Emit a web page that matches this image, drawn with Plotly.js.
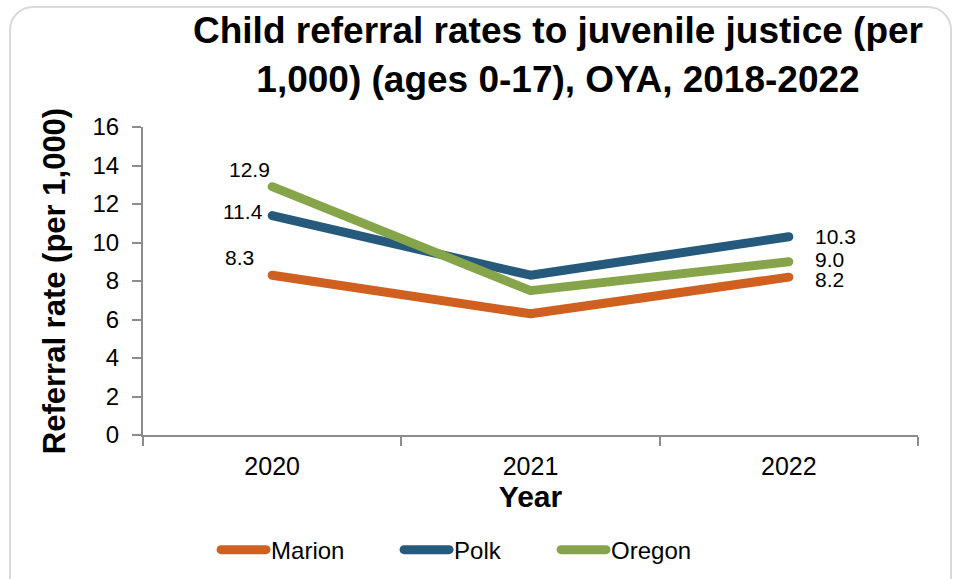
<!DOCTYPE html>
<html>
<head>
<meta charset="utf-8">
<script src="https://cdn.plot.ly/plotly-3.0.1.min.js"></script>
<style>
  html, body { margin: 0; padding: 0; background: #fff; }
  #wrap { position: relative; width: 956px; height: 579px; overflow: hidden; }
  #chart { width: 956px; height: 579px; }
  #frame { position: absolute; left: 9px; top: 6px; width: 939px; height: 600px;
           border: 2px solid #d9d9d9; border-radius: 24px; pointer-events: none; }
  .scatterlayer path.js-line { stroke-linecap: round; stroke-linejoin: round; }
  .legendlines path { stroke-linecap: round; }
</style>
</head>
<body>
<div id="wrap"><div id="chart"></div><div id="frame"></div></div>
<script>
// ---- data ----
const years = ['2020', '2021', '2022'];
const marion = [8.3, 6.3, 8.2];
const polk = [11.4, 8.3, 10.3];
const oregon = [12.9, 7.5, 9.0];
const seriesNames = ['Marion', 'Polk', 'Oregon'];
const yTicks = [0, 2, 4, 6, 8, 10, 12, 14, 16];

// ---- styling ----
const colors = ['#D0601F', '#255A7D', '#86A54A'];
const seriesData = [marion, polk, oregon];
const legendWidths = [123, 97, 90];
// label offsets (px) for first and last points of each series
const firstShift = [[-33, 18], [-29, 4], [-23, 17]];
const lastShift = [[24, -2], [24, 0], [24, 2]];

const traces = seriesData.map((vals, i) => ({
  type: 'scatter',
  mode: 'lines',
  x: years,
  y: vals,
  name: seriesNames[i],
  legendwidth: legendWidths[i],
  line: { color: colors[i], width: 9 },
  hoverinfo: 'x+y+name'
}));

const labelFont = { family: 'Liberation Sans, Arial, sans-serif', size: 21, color: '#000' };
const annotations = [];
seriesData.forEach((vals, i) => {
  const last = vals.length - 1;
  annotations.push({
    x: 0, y: vals[0], xref: 'x', yref: 'y',
    text: vals[0].toFixed(1), showarrow: false,
    xanchor: 'center', yanchor: 'middle',
    xshift: firstShift[i][0], yshift: firstShift[i][1],
    font: labelFont
  });
  annotations.push({
    x: last, y: vals[last], xref: 'x', yref: 'y',
    text: vals[last].toFixed(1), showarrow: false,
    xanchor: 'left', yanchor: 'middle',
    xshift: lastShift[i][0], yshift: lastShift[i][1],
    font: labelFont
  });
});

const layout = {
  width: 956, height: 579,
  margin: { l: 143, r: 38, t: 127, b: 144 },
  paper_bgcolor: '#fff', plot_bgcolor: '#fff',
  font: { family: 'Liberation Sans, Arial, sans-serif', color: '#000' },
  title: {
    text: 'Child referral rates to juvenile justice (per<br>1,000) (ages 0-17), OYA, 2018-2022',
    font: { family: 'Liberation Sans, Arial, sans-serif', size: 37, color: '#000', weight: 'bold' },
    x: 558 / 956, xanchor: 'center', xref: 'container',
    y: 0.925, yanchor: 'top', yref: 'container'
  },
  xaxis: {
    type: 'category',
    range: [-0.5, 2.5],
    tickson: 'boundaries',
    ticks: 'outside', ticklen: 9, tickwidth: 2, tickcolor: '#8c8c8c',
    showline: true, linecolor: '#8c8c8c', linewidth: 2,
    showgrid: false, zeroline: false,
    ticklabelstandoff: 8,
    automargin: false,
    tickfont: { family: 'Liberation Sans, Arial, sans-serif', size: 25, color: '#000' },
    title: { text: 'Year', standoff: 4,
      font: { family: 'Liberation Sans, Arial, sans-serif', size: 30, color: '#000', weight: 'bold' } },
    fixedrange: true
  },
  yaxis: {
    range: [0, 16],
    tickvals: yTicks,
    ticks: 'outside', ticklen: 9, tickwidth: 2, tickcolor: '#8c8c8c',
    showline: true, linecolor: '#8c8c8c', linewidth: 2,
    showgrid: false, zeroline: false,
    ticklabelstandoff: 8,
    automargin: false,
    tickfont: { family: 'Liberation Sans, Arial, sans-serif', size: 24, color: '#000' },
    title: { text: 'Referral rate (per 1,000)', standoff: 18,
      font: { family: 'Liberation Sans, Arial, sans-serif', size: 31, color: '#000', weight: 'bold' } },
    fixedrange: true
  },
  showlegend: true,
  legend: {
    orientation: 'h',
    xref: 'container', yref: 'container',
    x: 0.226, xanchor: 'left',
    y: 0.05, yanchor: 'middle',
    font: { family: 'Liberation Sans, Arial, sans-serif', size: 24, color: '#000' },
    itemwidth: 45,
    traceorder: 'normal'
  },
  annotations: annotations
};

Plotly.newPlot('chart', traces, layout, { displayModeBar: false });
</script>
</body>
</html>
